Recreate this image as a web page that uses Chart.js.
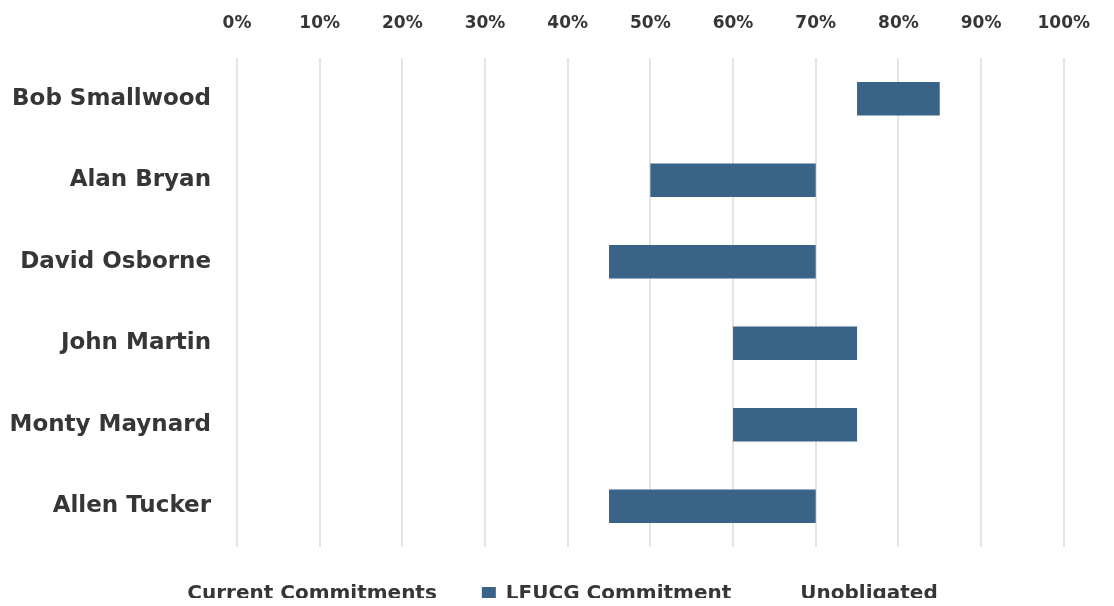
<!DOCTYPE html>
<html>
<head>
<meta charset="utf-8">
<script src="https://cdn.jsdelivr.net/npm/chart.js@4"></script>
<style>
    html, body { margin: 0; padding: 0; background: #ffffff; overflow: hidden; }
    #wrap { position: relative; width: 1114px; height: 606px; }
    #commitChart { display: block; }
</style>
</head>
<body>
<div id="wrap"><canvas id="commitChart"></canvas></div>
<script>
// 차트 데이터
const names = ['Bob Smallwood', 'Alan Bryan', 'David Osborne', 'John Martin', 'Monty Maynard', 'Allen Tucker'];
const currentCommitments = [75, 50, 45, 60, 60, 45];
const lfucgCommitment = [10, 20, 25, 15, 15, 25];
const unobligated = [15, 30, 30, 25, 25, 30];
const percentTicks = [0, 10, 20, 30, 40, 50, 60, 70, 80, 90, 100];

const textColor = '#363636';
const fontFamily = "'DejaVu Sans', sans-serif";

// 범례 높이와 위치를 맞추는 플러그인
const legendFix = {
    id: 'legendFix',
    beforeLayout(chart) {
        const lg = chart.legend;
        if (lg && !lg._fixed) {
            const origFit = lg.fit.bind(lg);
            lg.fit = function() {
                origFit();
                this.height = 59;
            };
            lg._fixed = true;
        }
    },
    afterLayout(chart) {
        const lg = chart.legend;
        lg.top -= 8;
        lg.bottom -= 8;
        lg.left += 10;
        lg.right += 10;
    }
};

const ctx = document.getElementById('commitChart').getContext('2d');
const commitChart = new Chart(ctx, {
    type: 'bar',
    data: {
        labels: names,
        datasets: [{
            label: 'Current Commitments',
            data: currentCommitments,
            backgroundColor: 'rgba(0,0,0,0)',
            borderWidth: 0
        }, {
            label: 'LFUCG Commitment',
            data: lfucgCommitment,
            backgroundColor: '#3a6388',
            borderWidth: 0,
            borderRadius: 2,
            borderSkipped: false
        }, {
            label: 'Unobligated',
            data: unobligated,
            backgroundColor: 'rgba(0,0,0,0)',
            borderWidth: 0
        }]
    },
    options: {
        indexAxis: 'y',
        responsive: true,
        maintainAspectRatio: false,
        animation: false,
        layout: { padding: { left: 0, right: 33, top: 0, bottom: 0 } },
        datasets: {
            bar: { categoryPercentage: 1, barPercentage: 0.41 }
        },
        scales: {
            x: {
                position: 'top',
                stacked: true,
                min: 0,
                max: 100,
                afterFit: scale => { scale.height = 58; },
                afterBuildTicks: scale => {
                    scale.ticks = percentTicks.map(v => ({ value: v }));
                },
                ticks: {
                    padding: 24,
                    color: textColor,
                    font: { family: fontFamily, size: 17, weight: 'bold' },
                    callback: value => value + '%'
                },
                grid: {
                    color: '#e4e4e4',
                    lineWidth: 2,
                    drawTicks: false
                },
                border: { display: false }
            },
            y: {
                stacked: true,
                afterFit: scale => { scale.width = 237; },
                ticks: {
                    padding: 26,
                    color: textColor,
                    font: { family: fontFamily, size: 23, weight: 'bold' }
                },
                grid: { display: false, drawTicks: false },
                border: { display: false }
            }
        },
        plugins: {
            legend: {
                position: 'bottom',
                labels: {
                    color: textColor,
                    boxWidth: 14,
                    boxHeight: 14,
                    padding: 45,
                    font: { family: fontFamily, size: 20, weight: 'bold' }
                }
            },
            tooltip: { enabled: false }
        }
    },
    plugins: [legendFix]
});
</script>
</body>
</html>
